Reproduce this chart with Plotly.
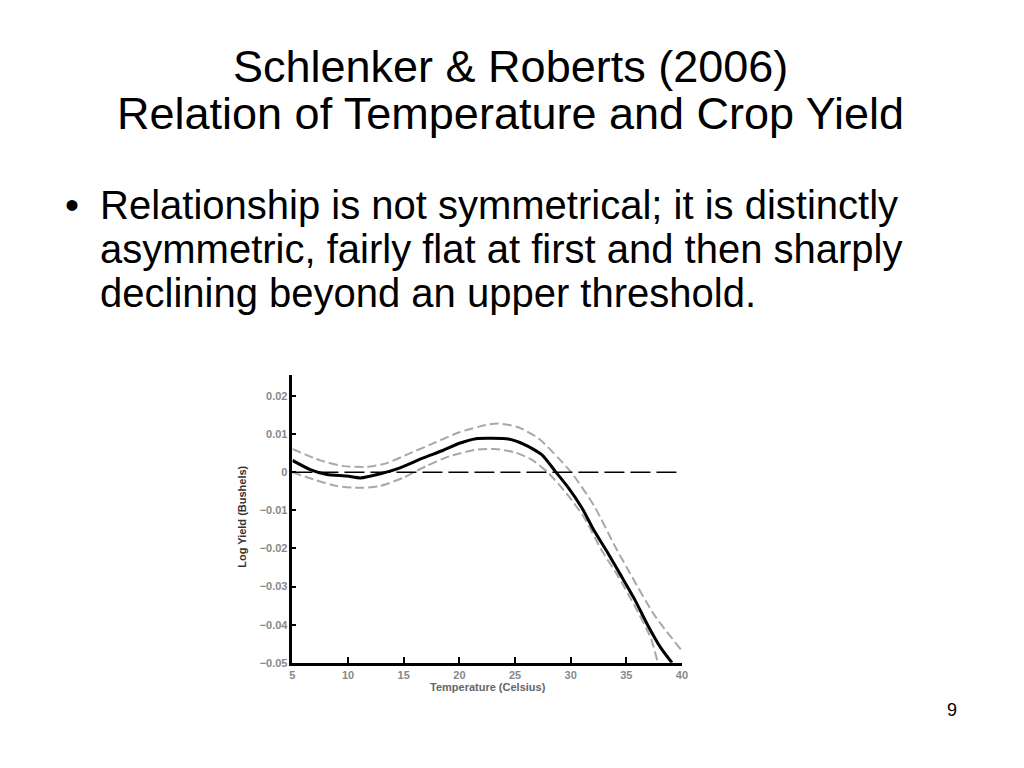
import plotly.graph_objects as go

# ---- data ----
temp_mid = [5.0, 6.6, 8.1, 9.9, 11.1, 12.9, 14.6, 16.7, 18.5, 20.0, 21.5, 22.9, 24.4,
            25.9, 27.4, 28.6, 29.8, 31.0, 32.1, 33.3, 34.5, 35.7, 36.9, 38.1, 39.1]
yield_mid = [0.0031, 0.0007, -0.0006, -0.0010, -0.0015, -0.0004, 0.0011, 0.0037, 0.0057,
             0.0076, 0.0088, 0.0089, 0.0087, 0.0072, 0.0046, 0.0003, -0.0041, -0.0093,
             -0.0153, -0.0210, -0.0270, -0.0331, -0.0400, -0.0461, -0.0500]

temp_up = [5.0, 7.5, 9.6, 11.7, 13.5, 15.5, 17.9, 20.0, 22.4, 23.5, 25.3, 27.1, 28.9,
           30.1, 32.1, 34.1, 35.1, 37.5, 39.9]
yield_up = [0.0061, 0.0031, 0.0016, 0.0014, 0.0024, 0.0049, 0.0079, 0.0105, 0.0124,
            0.0128, 0.0118, 0.0089, 0.0037, -0.0002, -0.0088, -0.0201, -0.0253, -0.0374,
            -0.0465]

temp_lo = [5.0, 6.9, 9.0, 11.1, 12.9, 14.9, 17.0, 19.1, 21.5, 23.2, 25.0, 26.5, 28.0,
           29.8, 31.3, 32.7, 34.2, 35.7, 37.2, 37.8]
yield_lo = [0.0000, -0.0019, -0.0036, -0.0041, -0.0036, -0.0015, 0.0016, 0.0042, 0.0059,
            0.0061, 0.0052, 0.0033, -0.0002, -0.0062, -0.0123, -0.0201, -0.0270, -0.0348,
            -0.0435, -0.0496]

ref_x = [5, 40]
ref_y = [0, 0]

x_ticks = [5, 10, 15, 20, 25, 30, 35, 40]
y_ticks = [0.02, 0.01, 0, -0.01, -0.02, -0.03, -0.04, -0.05]
y_ticklabels = ["0.02", "0.01", "0", "\u22120.01", "\u22120.02", "\u22120.03", "\u22120.04", "\u22120.05"]

title_lines = ["Schlenker &amp; Roberts (2006)", "Relation of Temperature and Crop Yield"]
bullet_lines = ["Relationship is not symmetrical; it is distinctly",
                "asymmetric, fairly flat at first and then sharply",
                "declining beyond an upper threshold."]
x_title = "Temperature (Celsius)"
y_title = "Log Yield (Bushels)"
page_no = "9"

W, H = 1024, 768
FONT = "Liberation Sans, Arial, sans-serif"

fig = go.Figure()
gray = "#a8a8a8"
fig.add_trace(go.Scatter(x=temp_up, y=yield_up, mode="lines", line=dict(color=gray, width=2, dash="9px,4px", shape="spline", smoothing=0.6), hoverinfo="skip"))
fig.add_trace(go.Scatter(x=temp_lo, y=yield_lo, mode="lines", line=dict(color=gray, width=2, dash="9px,4px", shape="spline", smoothing=0.6), hoverinfo="skip"))
fig.add_trace(go.Scatter(x=ref_x, y=ref_y, mode="lines", line=dict(color="black", width=1.5, dash="20px,6px"), hoverinfo="skip"))
fig.add_trace(go.Scatter(x=temp_mid, y=yield_mid, mode="lines", line=dict(color="black", width=3, shape="spline", smoothing=0.6), hoverinfo="skip"))


def px(x):
    return x / W


def py(y):
    return 1 - y / H


annotations = []
# title
for txt, yc in zip(title_lines, [67, 114]):
    annotations.append(dict(text=txt, x=px(512), y=py(yc), xref="paper", yref="paper",
                            xanchor="center", yanchor="middle", showarrow=False, borderpad=0,
                            font=dict(family=FONT, size=45, color="black")))
# bullets
annotations.append(dict(text="\u2022", x=px(62), y=py(207), xref="paper", yref="paper",
                        xanchor="left", yanchor="middle", showarrow=False, borderpad=0,
                        font=dict(family=FONT, size=40, color="black")))
for txt, yc in zip(bullet_lines, [207, 251, 295]):
    annotations.append(dict(text=txt, x=px(97), y=py(yc), xref="paper", yref="paper",
                            xanchor="left", yanchor="middle", showarrow=False, borderpad=0,
                            font=dict(family=FONT, size=40, color="black")))
# axis titles
annotations.append(dict(text=x_title, x=px(489), y=py(692), xref="paper", yref="paper",
                        xanchor="center", yanchor="middle", showarrow=False,
                        font=dict(family=FONT, size=11, color="#666666", weight="bold")))
annotations.append(dict(text=y_title, x=px(241), y=py(521), xref="paper", yref="paper",
                        xanchor="center", yanchor="middle", showarrow=False, textangle=-90,
                        font=dict(family=FONT, size=11, color="#333333", weight="bold")))
# page number
annotations.append(dict(text=page_no, x=px(957), y=py(716), xref="paper", yref="paper",
                        xanchor="center", yanchor="middle", showarrow=False,
                        font=dict(family=FONT, size=18, color="black")))

tickfont = dict(family=FONT, size=11, color="#888888", weight="bold")
fig.update_layout(
    width=W, height=H,
    margin=dict(l=0, r=0, t=0, b=0),
    paper_bgcolor="white", plot_bgcolor="white",
    showlegend=False,
    annotations=annotations,
    xaxis=dict(domain=[px(292), px(685)], range=[5, 40], tickvals=x_ticks,
               ticks="inside", ticklen=6, tickwidth=2, tickcolor="black",
               showline=True, linewidth=2.5, linecolor="black", mirror=False,
               showgrid=False, zeroline=False, tickfont=tickfont),
    yaxis=dict(domain=[py(668), py(378)], range=[-0.05, 0.0255], tickvals=y_ticks,
               ticktext=y_ticklabels, ticks="inside", ticklen=4, tickwidth=2, tickcolor="black",
               showline=True, linewidth=2.5, linecolor="black", mirror=False,
               showgrid=False, zeroline=False, tickfont=tickfont),
)

fig.write_html("out.html", config={"displayModeBar": False},
               post_script="document.body.style.margin='0px';document.body.style.overflow='hidden';")
